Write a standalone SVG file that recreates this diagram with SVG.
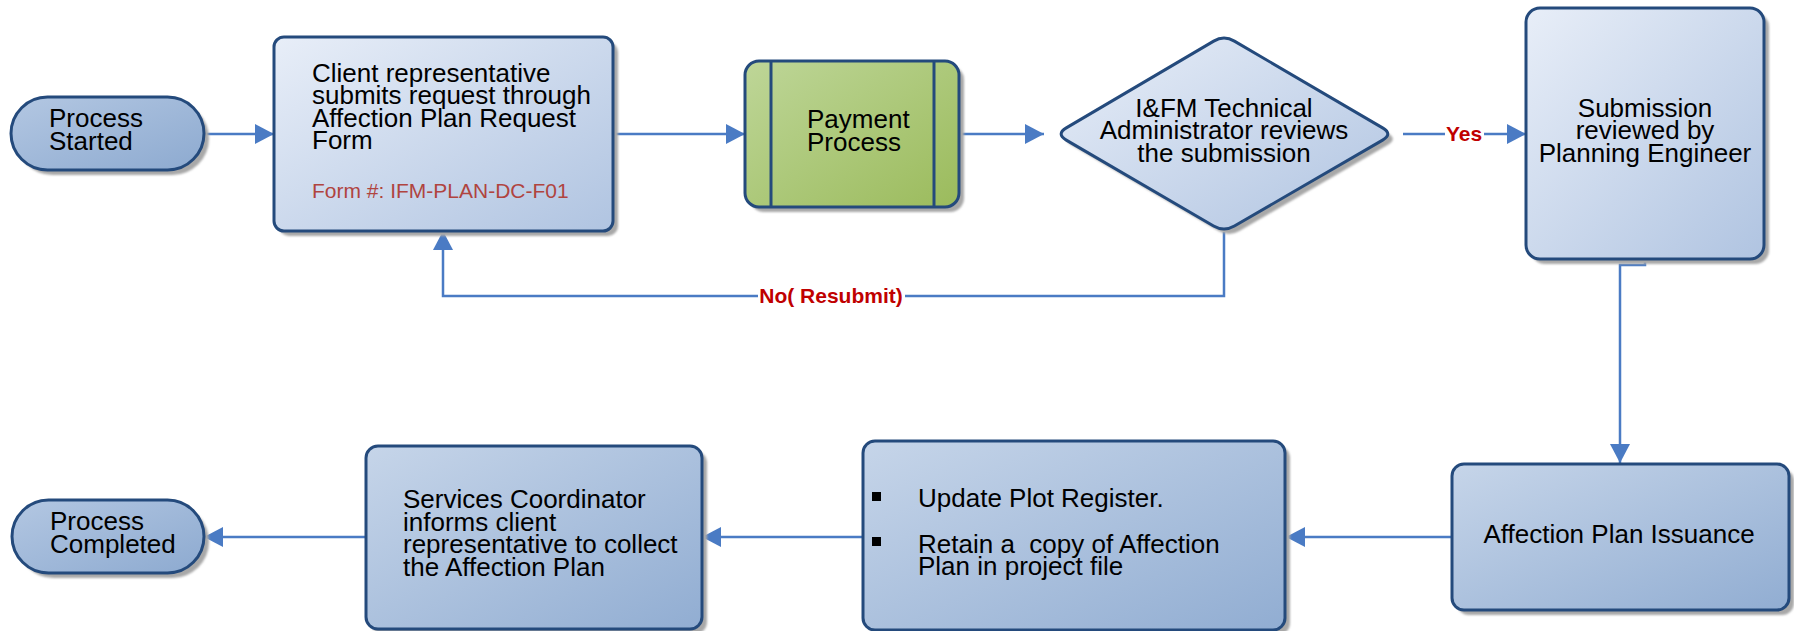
<svg xmlns="http://www.w3.org/2000/svg" width="1794" height="631" viewBox="0 0 1794 631">
<defs>
<linearGradient id="gTop" x1="0" y1="0" x2="1" y2="1"><stop offset="0" stop-color="#e8eef8"/><stop offset="1" stop-color="#b0c4e1"/></linearGradient>
<linearGradient id="gBot" x1="0" y1="0" x2="1" y2="1"><stop offset="0" stop-color="#c6d5e9"/><stop offset="1" stop-color="#91add2"/></linearGradient>
<linearGradient id="gPill" x1="0" y1="0" x2="1" y2="1"><stop offset="0" stop-color="#b3c7e2"/><stop offset="1" stop-color="#8dAad0"/></linearGradient>
<linearGradient id="gGreen" x1="0" y1="0" x2="1" y2="1"><stop offset="0" stop-color="#bed698"/><stop offset="1" stop-color="#9bbb5c"/></linearGradient>
<filter id="blur" x="-5%" y="-5%" width="110%" height="110%"><feGaussianBlur stdDeviation="1"/></filter>
<marker id="arr" markerUnits="userSpaceOnUse" markerWidth="20" markerHeight="20" viewBox="0 0 19 20" refX="19" refY="10" orient="auto"><path d="M0,0 L19,10 L0,20 Z" fill="#4a7bc4"/></marker>
</defs>
<style>
.sh{fill:#a8a8a8;filter:url(#blur)}
.nd{stroke:#244a7c;stroke-width:3}
.t{font-family:"Liberation Sans",Arial,sans-serif;font-size:26px;fill:#000}
.tc{text-anchor:middle}
.form{font-family:"Liberation Sans",Arial,sans-serif;font-size:21px;fill:#b0443f}
.lbl{font-family:"Liberation Sans",Arial,sans-serif;font-size:21px;font-weight:bold;fill:#c00000;text-anchor:middle}
.c{fill:none;stroke:#4a7bc4;stroke-width:2.5}
.blt{fill:#000}
</style>
<rect width="1794" height="631" fill="#ffffff"/>

<g id="connectors">
<path class="c" d="M204,134 H274" marker-end="url(#arr)"/>
<path class="c" d="M613,134 H745" marker-end="url(#arr)"/>
<path class="c" d="M959,134 H1044" marker-end="url(#arr)"/>
<path class="c" d="M1403,134 H1445"/>
<path class="c" d="M1484,134 H1526" marker-end="url(#arr)"/>
<text class="lbl" x="1464" y="141">Yes</text>
<path class="c" d="M1224,232 V296 H905"/>
<path class="c" d="M758,296 H443 V231" marker-end="url(#arr)"/>
<text class="lbl" x="831" y="303">No( Resubmit)</text>
<path class="c" d="M1645,259 V265 H1620 V463" marker-end="url(#arr)"/>
<path class="c" d="M1452,537 H1286" marker-end="url(#arr)"/>
<path class="c" d="M863,537 H702" marker-end="url(#arr)"/>
<path class="c" d="M366,537 H204" marker-end="url(#arr)"/>
</g>

<g id="start">
<rect class="sh" x="16" y="102" width="193" height="73" rx="36.5"/>
<rect class="nd" x="11" y="97" width="193" height="73" rx="36.5" fill="url(#gPill)"/>
<text class="t" x="49" y="127">Process</text>
<text class="t" x="49" y="150">Started</text>
</g>

<g id="client">
<rect class="sh" x="279" y="42" width="339" height="194" rx="10"/>
<rect class="nd" x="274" y="37" width="339" height="194" rx="10" fill="url(#gTop)"/>
<text class="t" x="312" y="82">Client representative</text>
<text class="t" x="312" y="104">submits request through</text>
<text class="t" x="312" y="127">Affection Plan Request</text>
<text class="t" x="312" y="149">Form</text>
<text class="form" x="312" y="198">Form #: IFM-PLAN-DC-F01</text>
</g>

<g id="payment">
<rect class="sh" x="750" y="66" width="214" height="146" rx="14"/>
<rect class="nd" x="745" y="61" width="214" height="146" rx="14" fill="url(#gGreen)"/>
<line class="nd" x1="771" y1="61" x2="771" y2="207"/>
<line class="nd" x1="934" y1="61" x2="934" y2="207"/>
<text class="t" x="807" y="128">Payment</text>
<text class="t" x="807" y="151">Process</text>
</g>

<g id="review">
<path class="sh" transform="translate(5,5)" d="M1066.3,127.9 L1213.7,41.1 Q1224,35 1234.4,41.1 L1382.6,127.9 Q1393,134 1382.6,140.1 L1234.4,226 Q1224,232 1213.6,226 L1066.3,140.1 Q1056,134 1066.3,127.9 Z"/>
<path class="nd" fill="url(#gTop)" d="M1066.3,127.9 L1213.7,41.1 Q1224,35 1234.4,41.1 L1382.6,127.9 Q1393,134 1382.6,140.1 L1234.4,226 Q1224,232 1213.6,226 L1066.3,140.1 Q1056,134 1066.3,127.9 Z"/>
<text class="t tc" x="1224" y="117">I&amp;FM Technical</text>
<text class="t tc" x="1224" y="139">Administrator reviews</text>
<text class="t tc" x="1224" y="162">the submission</text>
</g>

<g id="submission">
<rect class="sh" x="1531" y="13" width="238" height="251" rx="14"/>
<rect class="nd" x="1526" y="8" width="238" height="251" rx="14" fill="url(#gTop)"/>
<text class="t tc" x="1645" y="117">Submission</text>
<text class="t tc" x="1645" y="139">reviewed by</text>
<text class="t tc" x="1645" y="162">Planning Engineer</text>
</g>

<g id="issuance">
<rect class="sh" x="1457" y="469" width="337" height="146" rx="12"/>
<rect class="nd" x="1452" y="464" width="337" height="146" rx="12" fill="url(#gBot)"/>
<text class="t tc" x="1619" y="543">Affection Plan Issuance</text>
</g>

<g id="update">
<rect class="sh" x="868" y="446" width="422" height="189" rx="12"/>
<rect class="nd" x="863" y="441" width="422" height="189" rx="12" fill="url(#gBot)"/>
<rect class="blt" x="872" y="492" width="9" height="9"/>
<rect class="blt" x="872" y="537" width="9" height="9"/>
<text class="t" x="918" y="507">Update Plot Register.</text>
<text class="t" x="918" y="553" xml:space="preserve">Retain a  copy of Affection</text>
<text class="t" x="918" y="575">Plan in project file</text>
</g>

<g id="services">
<rect class="sh" x="371" y="451" width="336" height="183" rx="12"/>
<rect class="nd" x="366" y="446" width="336" height="183" rx="12" fill="url(#gBot)"/>
<text class="t" x="403" y="508">Services Coordinator</text>
<text class="t" x="403" y="531">informs client</text>
<text class="t" x="403" y="553">representative to collect</text>
<text class="t" x="403" y="576">the Affection Plan</text>
</g>

<g id="end">
<rect class="sh" x="17" y="505" width="192" height="73" rx="36.5"/>
<rect class="nd" x="12" y="500" width="192" height="73" rx="36.5" fill="url(#gPill)"/>
<text class="t" x="50" y="530">Process</text>
<text class="t" x="50" y="553">Completed</text>
</g>
</svg>
